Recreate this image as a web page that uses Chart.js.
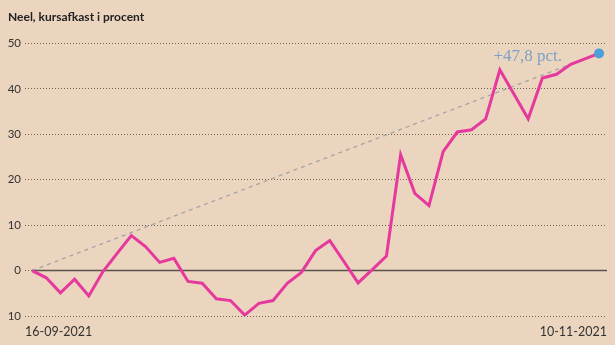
<!DOCTYPE html>
<html>
<head>
<meta charset="utf-8">
<script src="https://cdn.jsdelivr.net/npm/chart.js@4.4.1/dist/chart.umd.min.js"></script>
<style>
  html,body{margin:0;padding:0;background:#ecd5bf}
  #wrap{width:615px;height:345px}
</style>
</head>
<body>
<div id="wrap"><canvas id="chart"></canvas></div>
<script>
const chartTitle = "Neel, kursafkast i procent"
const dateLabels = ["16-09-2021", "10-11-2021"]
const yTicks = [-10, 0, 10, 20, 30, 40, 50]
const returns = [
  0, -1.6, -4.9, -1.9, -5.6, -0.2, 3.8, 7.7, 5.3, 1.8,
  2.7, -2.4, -2.8, -6.2, -6.6, -9.8, -7.2, -6.6, -2.8, -0.4,
  4.4, 6.6, 2.0, -2.7, 0.2, 3.2, 25.5, 17.0, 14.3, 26.2,
  30.5, 31.0, 33.4, 44.2, 38.8, 33.4, 42.4, 43.2, 45.4, 46.6,
  47.8
]
const endLabel = "+47,8 pct."

const last = returns.length - 1
const points = returns.map((v, i) => ({ x: i, y: v }))
const trend = [{ x: 0, y: returns[0] }, { x: last, y: returns[last] }]

// zero line from first point to the right edge, and the end label
const extras = {
  id: "extras",
  beforeDatasetsDraw(chart){
    const { ctx, chartArea, scales } = chart
    const y0 = scales.y.getPixelForValue(0)
    ctx.save()
    ctx.strokeStyle = "#5a524c"
    ctx.lineWidth = 1.5
    ctx.beginPath()
    ctx.moveTo(scales.x.getPixelForValue(0), y0)
    ctx.lineTo(chartArea.right, y0)
    ctx.stroke()
    ctx.restore()
  },
  afterDatasetsDraw(chart){
    const { ctx, scales } = chart
    ctx.save()
    ctx.font = "17px 'Liberation Serif', serif"
    ctx.fillStyle = "#7aa2c8"
    ctx.textAlign = "right"
    ctx.textBaseline = "middle"
    ctx.fillText(endLabel, scales.x.getPixelForValue(last) - 37, scales.y.getPixelForValue(returns[last]) + 3)
    ctx.restore()
  }
}

new Chart(document.getElementById("chart"), {
  type: "line",
  data: {
    datasets: [
      {
        data: [points[last]],
        pointRadius: 5,
        pointBackgroundColor: "#4d9fd9",
        pointBorderWidth: 0,
        showLine: false,
        clip: false
      },
      {
        data: points,
        borderColor: "#e6399e",
        borderWidth: 3,
        pointRadius: 0,
        tension: 0,
        fill: false,
        borderJoinStyle: "miter"
      },
      {
        data: trend,
        borderColor: "#a3a3a6",
        borderWidth: 1.3,
        borderDash: [4, 4],
        pointRadius: 0,
        fill: false
      }
    ]
  },
  options: {
    animation: false,
    responsive: true,
    maintainAspectRatio: false,
    layout: { padding: { left: 8, right: 8, top: 0, bottom: 0 } },
    plugins: {
      legend: { display: false },
      tooltip: { enabled: false },
      title: {
        display: true,
        text: chartTitle,
        align: "start",
        color: "#222",
        font: { family: "Lato", weight: "bold", size: 12 },
        padding: { top: 10, bottom: 19 }
      }
    },
    scales: {
      x: {
        type: "linear",
        min: -0.5,
        max: 40.56,
        grid: { display: false, drawTicks: false },
        border: { display: false },
        afterBuildTicks: s => { s.ticks = [{ value: s.min }, { value: s.max }] },
        afterFit: s => { s.height = 29 },
        ticks: {
          align: "inner",
          padding: 8,
          maxRotation: 0,
          autoSkip: false,
          color: "#333",
          font: { family: "Lato", size: 12.5 },
          callback: (v, i) => dateLabels[i]
        }
      },
      y: {
        min: -10,
        max: 50,
        afterBuildTicks: s => { s.ticks = yTicks.map(v => ({ value: v })) },
        afterFit: s => { s.width = 17 },
        grid: { color: "rgba(70,60,50,0.75)", lineWidth: 1, drawTicks: false },
        border: { display: false, dash: [1, 2] },
        ticks: {
          padding: 4,
          color: "#333",
          font: { family: "Lato", size: 11.5 }
        }
      }
    }
  },
  plugins: [extras]
})
</script>
</body>
</html>
